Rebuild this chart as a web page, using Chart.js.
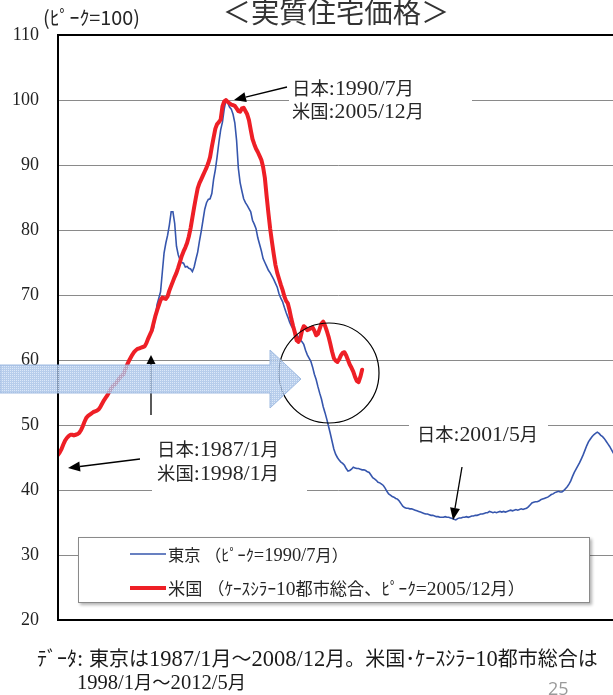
<!DOCTYPE html>
<html><head><meta charset="utf-8">
<script src="https://cdn.jsdelivr.net/npm/chart.js@4/dist/chart.umd.min.js"></script>
<style>html,body{margin:0;padding:0;overflow:hidden;background:#fff;width:613px;height:695px}canvas{display:block}</style>
</head><body>
<canvas id="c" width="640" height="695"></canvas>
<script>
// months relative to each series' peak (Tokyo 1990/7, US 2005/12)
const tokyoStartOffset = -42;   // 1987/1
const usStartOffset = -95;      // 1998/1
const seriesLabels = ['東京 （ﾋﾟｰｸ=1990/7月）', '米国 （ｹｰｽｼﾗｰ10都市総合、ﾋﾟｰｸ=2005/12月）'];
const yTickMin = 20, yTickMax = 110, yTickStep = 10;
const tokyoValues = [
64.2,64.9,66.5,68.5,69.5,70.5,73.5,76.5,78.0,79.2,
80.8,82.8,82.8,81.0,77.5,76.2,75.4,75.0,74.9,74.3,
74.4,74.1,74.0,73.6,74.3,75.5,76.6,78.3,79.8,81.5,
83.2,84.2,84.7,84.8,85.6,87.8,89.3,91.3,93.5,95.4,
96.6,98.6,100.0,99.6,98.9,98.6,97.8,96.5,93.8,89.5,
87.3,86.0,84.8,84.2,83.8,83.3,82.8,81.5,80.9,80.2,
78.8,77.8,76.8,75.6,75.0,74.4,73.8,73.4,72.9,72.4,
71.8,71.2,70.2,69.5,69.0,68.1,67.3,66.6,65.8,65.2,
64.8,64.3,63.9,63.5,63.1,62.8,62.4,61.5,60.8,60.3,
59.8,58.9,57.8,57.0,55.9,54.9,54.0,52.8,51.9,50.9,
49.8,48.7,47.5,46.3,45.5,45.0,44.6,44.3,44.1,43.8,
43.3,42.9,43.0,43.2,43.5,43.4,43.3,43.3,43.2,43.1,
43.1,43.0,42.8,42.7,42.3,41.9,41.7,41.5,41.2,41.1,
40.9,40.7,40.3,39.8,39.4,39.2,39.0,38.9,38.7,38.6,
38.3,37.9,37.5,37.3,37.2,37.2,37.1,37.1,37.0,36.9,
36.8,36.7,36.6,36.5,36.4,36.3,36.3,36.2,36.1,36.1,
36.0,35.9,35.9,35.8,35.8,35.8,35.9,35.8,35.8,35.7,
35.6,35.5,35.4,35.6,35.7,35.7,35.8,35.8,35.9,35.8,
35.9,36.0,36.0,36.1,36.1,36.2,36.3,36.3,36.4,36.5,
36.5,36.7,36.6,36.5,36.6,36.5,36.6,36.7,36.6,36.7,
36.6,36.7,36.8,36.9,36.8,36.9,37.0,36.9,37.0,37.1,
37.0,37.1,37.2,37.4,37.7,38.0,38.1,38.2,38.2,38.3,
38.5,38.6,38.7,38.8,38.9,39.1,39.3,39.4,39.6,39.7,
39.8,39.7,39.7,39.9,40.2,40.5,40.9,41.4,42.1,42.7,
43.2,43.7,44.2,44.8,45.4,46.1,46.8,47.4,47.8,48.2,
48.5,48.7,48.9,48.7,48.4,48.2,47.9,47.5,47.1,46.7,
46.2,45.7,45.3,45.0
];
const usValues = [
45.4,45.8,46.3,47.0,47.6,48.0,48.3,48.5,48.5,48.4,
48.5,48.6,48.8,49.2,49.8,50.5,51.1,51.4,51.6,51.8,
52.0,52.1,52.2,52.4,52.8,53.3,53.8,54.2,54.6,55.1,
55.6,56.0,56.2,56.5,56.9,57.3,57.6,57.8,58.5,59.2,
59.8,60.3,60.8,61.2,61.5,61.7,61.8,61.9,62.0,62.1,
62.6,63.3,63.9,64.5,65.6,66.7,67.6,68.4,69.2,69.6,
69.5,69.4,69.8,70.7,71.4,72.1,72.8,73.4,74.2,75.1,
76.0,76.7,77.3,78.0,79.0,80.3,81.9,83.5,85.0,86.4,
87.2,87.8,88.4,89.0,89.6,90.3,91.2,92.8,94.2,95.6,
96.3,96.6,97.0,99.0,99.8,100.0,99.7,99.5,99.3,99.2,
99.1,98.7,98.3,98.2,98.7,98.8,98.3,97.8,96.9,95.4,
94.0,93.2,92.5,92.0,91.4,90.8,89.7,88.0,85.2,82.6,
80.2,78.2,76.3,74.6,73.4,72.5,71.6,70.8,69.8,69.1,
68.7,67.6,66.3,65.2,64.2,63.0,62.8,63.3,64.5,65.2,
65.0,64.6,64.7,64.9,65.0,64.5,63.8,64.0,64.8,65.6,
65.9,65.3,64.5,63.6,62.5,61.3,60.3,59.9,59.7,60.1,
60.7,61.1,61.2,60.7,60.0,59.3,58.8,58.2,57.4,56.8,
56.6,57.4,58.5
];

const CJK = '"Noto Sans CJK JP"';
function drawMixed(ctx, text, x, y, o) {
  const runs = [];
  for (const ch of text) {
    const lat = ch.charCodeAt(0) < 128;
    if (runs.length && runs[runs.length - 1].lat === lat) runs[runs.length - 1].t += ch;
    else runs.push({ lat, t: ch });
  }
  const latFam = o.latFamily || '"Liberation Serif"';
  const fontOf = (r, s) => (o.weight || 'normal') + ' ' + ((r.lat ? o.lat : o.cjk) * s).toFixed(2) + 'px ' + (r.lat ? latFam : CJK);
  const measure = s => runs.reduce((w, r) => { ctx.font = fontOf(r, s); return w + ctx.measureText(r.t).width; }, 0);
  let s = 1;
  if (o.width) s = Math.max(0.7, Math.min(1.4, o.width / measure(1)));
  let cx = x;
  if (o.align === 'center') cx = x - measure(s) / 2;
  ctx.fillStyle = o.color || '#222';
  ctx.textBaseline = 'alphabetic';
  const base = y + 0.36 * Math.max(o.cjk, o.lat) * s;
  for (const r of runs) { ctx.font = fontOf(r, s); ctx.fillText(r.t, cx, base); cx += ctx.measureText(r.t).width; }
}
function arrow(ctx, x1, y1, x2, y2, head, hw) {
  const a = Math.atan2(y2 - y1, x2 - x1);
  const bx = x2 - head * Math.cos(a), by = y2 - head * Math.sin(a);
  ctx.strokeStyle = '#000'; ctx.fillStyle = '#000'; ctx.lineWidth = 1.3;
  ctx.beginPath(); ctx.moveTo(x1, y1); ctx.lineTo(bx, by); ctx.stroke();
  ctx.beginPath(); ctx.moveTo(x2, y2);
  ctx.lineTo(bx + hw * Math.sin(a), by - hw * Math.cos(a));
  ctx.lineTo(bx - hw * Math.sin(a), by + hw * Math.cos(a));
  ctx.closePath(); ctx.fill();
}
function makePattern(ctx) {
  const p = document.createElement('canvas'); p.width = 4; p.height = 4;
  const g = p.getContext('2d');
  g.fillStyle = 'rgba(165,193,230,0.8)'; g.fillRect(0, 0, 4, 4);
  g.fillStyle = 'rgba(232,240,252,0.75)';
  g.fillRect(0, 0, 1, 1); g.fillRect(2, 2, 1, 1); g.fillRect(2, 0, 1, 1); g.fillRect(0, 2, 1, 1);
  return ctx.createPattern(p, 'repeat');
}

const cutPlugin = {
  id: 'cuts',
  beforeDatasetsDraw(chart) {
    const ctx = chart.ctx; ctx.save(); ctx.fillStyle = '#fff';
    ctx.fillRect(289, 74, 183, 48);
    ctx.fillRect(152, 436, 155, 60);
    ctx.fillRect(409, 420, 139, 26);
    ctx.restore();
  },
  afterDatasetsDraw(chart) {
    const ctx = chart.ctx, a = chart.chartArea;
    ctx.save();
    ctx.strokeStyle = '#000'; ctx.lineWidth = 2;
    ctx.strokeRect(a.left, a.top, a.right - a.left, a.bottom - a.top);
    ctx.lineWidth = 1.2; ctx.beginPath(); ctx.arc(329, 373, 50, 0, Math.PI * 2); ctx.stroke();
    arrow(ctx, 151, 415, 151, 355, 9, 4.5);
    ctx.beginPath();
    ctx.moveTo(0, 365); ctx.lineTo(270, 365); ctx.lineTo(270, 350); ctx.lineTo(301, 379);
    ctx.lineTo(270, 408); ctx.lineTo(270, 393); ctx.lineTo(0, 393); ctx.closePath();
    ctx.fillStyle = makePattern(ctx); ctx.fill();
    ctx.strokeStyle = 'rgba(150,180,222,0.9)'; ctx.lineWidth = 1; ctx.stroke();
    arrow(ctx, 287, 87, 234, 100, 12, 5);
    arrow(ctx, 140, 459, 68, 468, 12, 5);
    arrow(ctx, 462, 467, 453, 520, 12, 5);
    const ann = { cjk: 16, lat: 19, color: '#262626' };
    drawMixed(ctx, '日本:1990/7月', 292, 87, { ...ann, width: 122 });
    drawMixed(ctx, '米国:2005/12月', 292, 110, { ...ann, width: 132 });
    drawMixed(ctx, '日本:1987/1月', 157, 448, { ...ann, width: 122 });
    drawMixed(ctx, '米国:1998/1月', 157, 472, { ...ann, width: 122 });
    drawMixed(ctx, '日本:2001/5月', 417, 433, { ...ann, width: 121 });
    drawMixed(ctx, '＜実質住宅価格＞', 336, 13, { cjk: 26, lat: 26, width: 227, align: 'center', color: '#333' });
    drawMixed(ctx, '(ﾋﾟｰｸ=100)', 43, 18, { cjk: 17, lat: 17, latFamily: CJK, width: 97, color: '#262626' });
    ctx.save();
    ctx.shadowColor = 'rgba(0,0,0,0.3)'; ctx.shadowBlur = 3; ctx.shadowOffsetX = 2; ctx.shadowOffsetY = 2;
    ctx.fillStyle = '#fff'; ctx.fillRect(78, 537, 512, 66);
    ctx.restore();
    ctx.strokeStyle = '#8a8a8a'; ctx.lineWidth = 1; ctx.strokeRect(78.5, 537.5, 511, 65);
    const rowsY = [554, 588], widths = [180, 357];
    chart.data.datasets.forEach((ds, i) => {
      ctx.strokeStyle = ds.borderColor; ctx.lineWidth = ds.borderWidth;
      ctx.beginPath(); ctx.moveTo(130, rowsY[i]); ctx.lineTo(166, rowsY[i]); ctx.stroke();
      drawMixed(ctx, ds.label, 168, rowsY[i], { cjk: 15, lat: 17, width: widths[i], color: '#262626' });
    });
    drawMixed(ctx, 'ﾃﾞｰﾀ: 東京は1987/1月～2008/12月。米国･ｹｰｽｼﾗｰ10都市総合は', 37, 658, { cjk: 16, lat: 18, width: 561, color: '#1a1a1a' });
    drawMixed(ctx, '1998/1月～2012/5月', 77, 682, { cjk: 16, lat: 18, width: 169, color: '#1a1a1a' });
    ctx.font = '18px "Open Sans"'; ctx.fillStyle = '#9a9a9a'; ctx.textBaseline = 'middle';
    ctx.fillText('25', 548, 690);
    ctx.restore();
  }
};

new Chart(document.getElementById('c'), {
  type: 'line',
  data: {
    datasets: [
      { label: seriesLabels[0], data: tokyoValues.map((v, i) => ({ x: tokyoStartOffset + i, y: v })),
        borderColor: '#3656ad', borderWidth: 1.6, pointRadius: 0, tension: 0, order: 1 },
      { label: seriesLabels[1], data: usValues.map((v, i) => ({ x: usStartOffset + i, y: v })),
        borderColor: '#ee1f26', borderWidth: 4, pointRadius: 0, tension: 0, order: 0,
        borderJoinStyle: 'round', borderCapStyle: 'round' }
    ]
  },
  options: {
    responsive: false, animation: false, devicePixelRatio: 1,
    layout: { padding: { top: 35, bottom: 75, left: 0, right: 21.5 } },
    plugins: { legend: { display: false }, tooltip: { enabled: false } },
    scales: {
      x: { type: 'linear', min: -95, max: 222, display: false },
      y: {
        min: yTickMin, max: yTickMax,
        afterFit(s) { s.width = 58; },
        ticks: { stepSize: yTickStep, padding: 19, color: '#222', font: { family: '"Liberation Serif"', size: 18 } },
        grid: { color: '#8a8a8a', lineWidth: 1, drawTicks: false },
        border: { display: false }
      }
    }
  },
  plugins: [cutPlugin]
});
</script>
</body></html>
